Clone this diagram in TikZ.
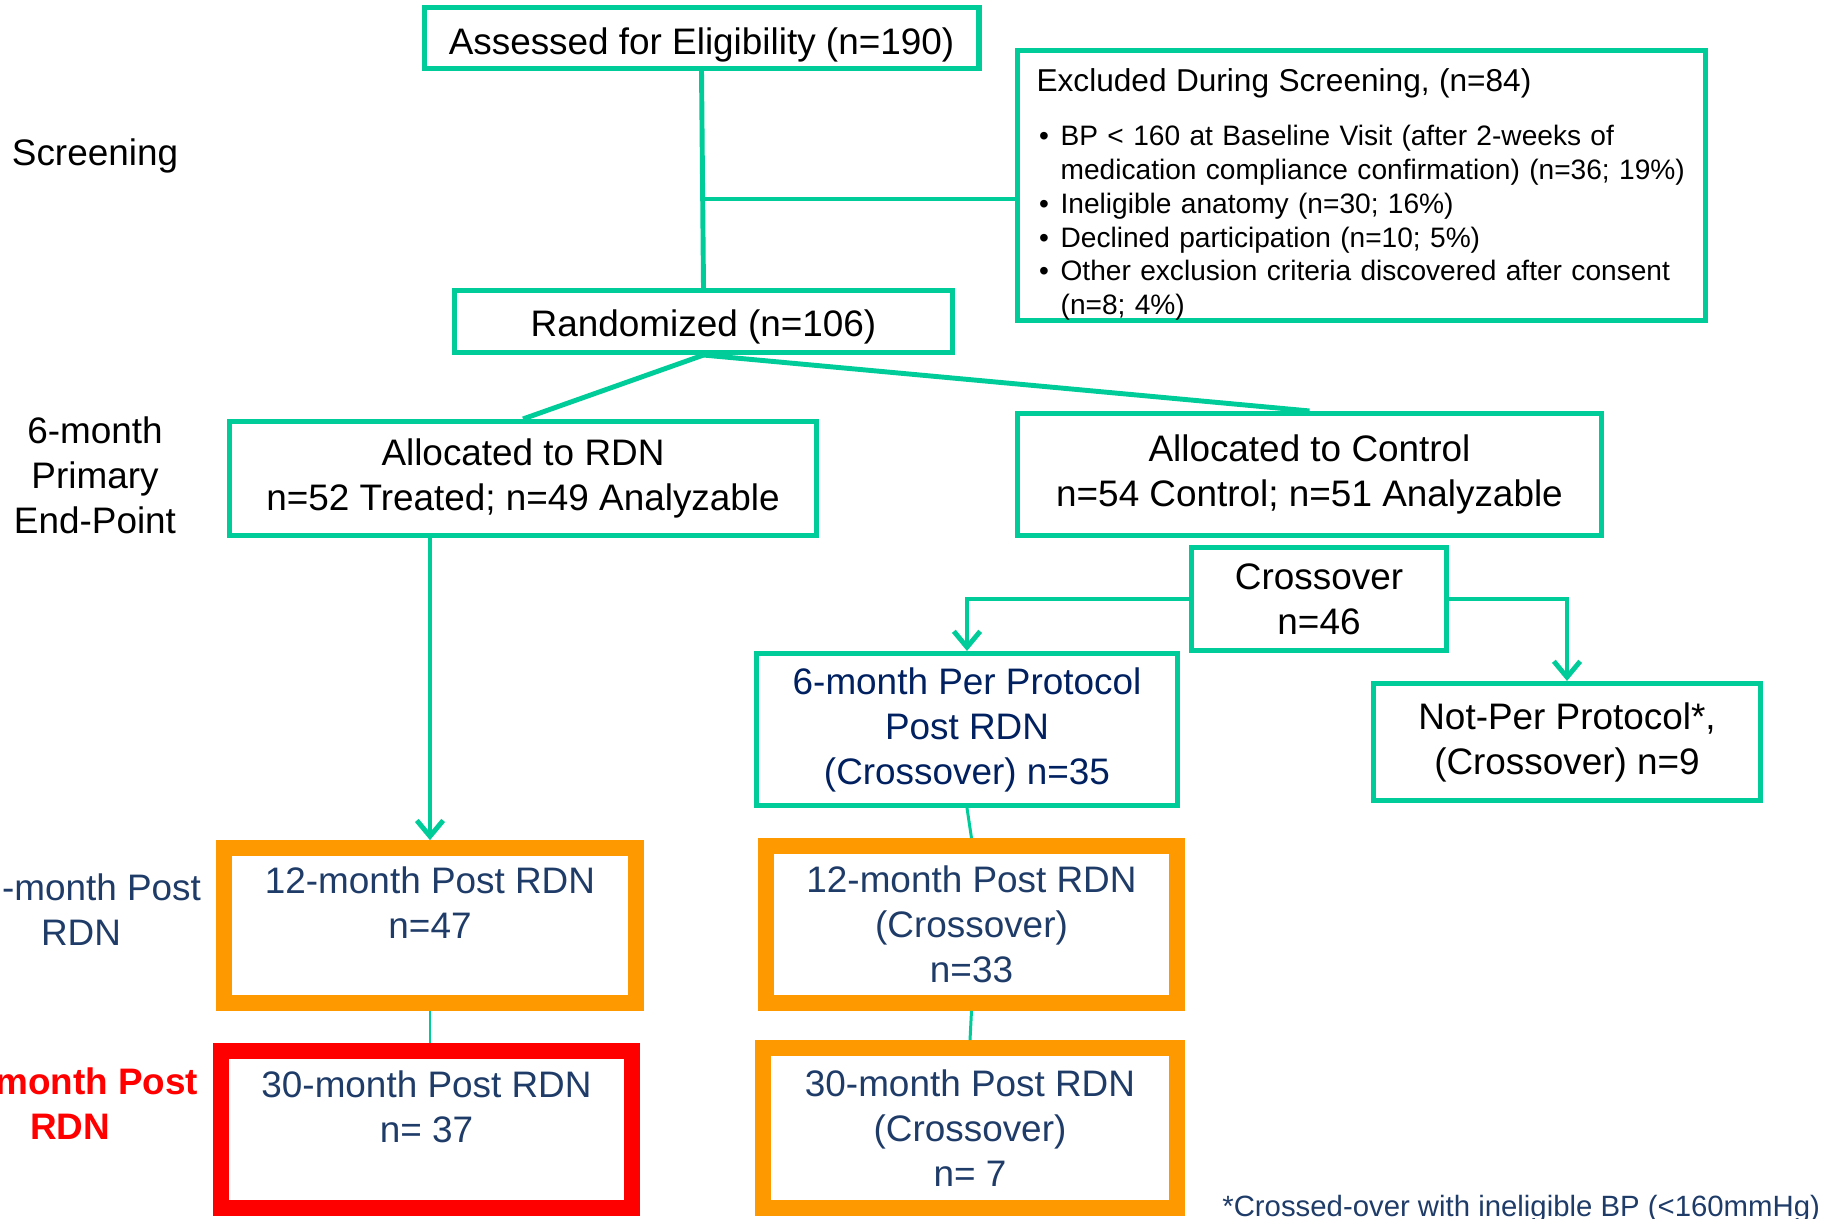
\documentclass[tikz,border=0pt]{standalone}
\usepackage{fontspec}
\setmainfont{Liberation Sans}
\usepackage{tikz}
\usetikzlibrary{arrows.meta,positioning}
\definecolor{mint}{RGB}{0, 204, 153}
\definecolor{amber}{RGB}{255, 153, 0}
\definecolor{alarm}{RGB}{255, 0, 0}
\definecolor{slate}{RGB}{31, 60, 105}
\definecolor{navy}{RGB}{0, 32, 96}
\newcommand{\exbul}{\hspace*{1.4pt}\makebox[12.3pt][l]{\textbullet}}
\newcommand{\exind}{\hspace*{13.7pt}}

\begin{document}
\begin{tikzpicture}[x=0.02cm, y=-0.02cm,
    tbox/.style={draw=mint, line width=2.9pt, align=center, inner sep=0pt, font=\fontsize{21}{25.6}\selectfont},
    obox/.style={draw=amber, line width=9pt, align=center, inner sep=0pt, text=slate, font=\fontsize{21}{25.6}\selectfont},
    rbox/.style={obox, draw=alarm},
    side/.style={align=center, inner sep=0pt, font=\fontsize{21}{25.6}\selectfont},
    link/.style={draw=mint, line width=2.8pt},
    sublink/.style={draw=mint, line width=1.7pt},
    arr/.style={link, -{Straight Barb[length=9pt, width=15pt]}}]
            \useasboundingbox (0,0) rectangle (1825,1219);

            % Screening
            \node[tbox, minimum width=11.1cm, minimum height=1.22cm] (assess) at (701.5,38) {\rule{0pt}{23.5pt}Assessed for Eligibility (n=190)};
            \node[tbox, minimum width=13.76cm, minimum height=5.36cm, align=left, text width=13.0cm, font=\fontsize{16}{19.2}\selectfont] (excl) at (1361.5,185.5)
                {{\fontsize{18}{19.2}\selectfont\rule{0pt}{23pt}Excluded During Screening, (n=84)}\\[12pt]
                 \exbul BP < 160 at Baseline Visit (after 2-weeks of\\
                 \exind medication compliance confirmation) (n=36; 19\%)\\
                 \exbul Ineligible anatomy (n=30; 16\%)\\
                 \exbul Declined participation (n=10; 5\%)\\
                 \exbul Other exclusion criteria discovered after consent\\
                 \exind (n=8; 4\%)};
            \node[tbox, minimum width=9.96cm, minimum height=1.24cm] (rand) at (703.5,321.5) {\rule{0pt}{21.5pt}Randomized (n=106)};

            % 6-month
            \node[tbox, minimum width=11.74cm, minimum height=2.28cm] (allocR) at (523,478.5) {Allocated to RDN\\n=52 Treated; n=49 Analyzable};
            \node[tbox, minimum width=11.68cm, minimum height=2.44cm] (allocC) at (1309.5,474.5) {Allocated to Control\\n=54 Control; n=51 Analyzable};
            \node[tbox, minimum width=5.1cm, minimum height=2.06cm] (cross) at (1319,599) {Crossover\\n=46};
            \node[tbox, minimum width=8.42cm, minimum height=3.04cm, text=navy] (pp) at (967,729.5) {6-month Per Protocol\\Post RDN\\(Crossover) n=35};
            \node[tbox, minimum width=7.74cm, minimum height=2.34cm] (npp) at (1567,742) {Not-Per Protocol*,\\(Crossover) n=9};

            % 12 and 30 months
            \node[obox, minimum width=8.24cm, minimum height=3.1cm] (m12R) at (430,925.5) {12-month Post RDN\\n=47\\ };
            \node[rbox, minimum width=8.22cm, minimum height=3.14cm] (m30R) at (426.5,1129.5) {30-month Post RDN\\n= 37\\ };
            \node[obox, minimum width=8.22cm, minimum height=3.14cm] (m12C) at (971.5,924.5) {12-month Post RDN\\(Crossover)\\n=33};
            \node[obox, minimum width=8.28cm, minimum height=3.2cm] (m30C) at (970,1128) {30-month Post RDN\\(Crossover)\\n= 7};

            % Side labels
            \node[side] (lblscreen) at (95,156) {Screening};
            \node[side] (lblprimary) at (95,475) {6-month\\Primary\\End-Point};
            \node[side, text=slate] (lbltwelve) at (81,910) {\phantom{12}-month Post\\RDN};
            \node[side, text=alarm, font=\fontsize{21}{25.6}\selectfont\bfseries] (lblthirty) at (70,1104) {\phantom{30-}month Post\\RDN};
            \node[anchor=base west, inner sep=0pt, text=slate, font=\fontsize{16.7}{20}\selectfont] (note) at (1222,1216) {*Crossed-over with ineligible BP (<160mmHg)};

            % Connectors
            \coordinate (knee) at (702,199);
            \draw[link] (assess.south) -- (rand.north);
            \draw[link] (knee) -- (knee -| excl.west);
            \draw[link] (rand.south) -- (allocR.north);
            \draw[link] (rand.south) -- (allocC.north);
            \draw[arr] (allocR.south -| m12R.north) -- (m12R.north);
            \draw[arr] (cross.west) -| (pp.north);
            \draw[arr] (cross.east) -| (npp.north);
            \draw[sublink] (pp.south) -- (m12C.north);
            \draw[sublink] (m12C.south) -- (m30C.north);
            \draw[sublink] (m12R.south) -- (m12R.south |- m30R.north);
        \end{tikzpicture}
\end{document}
